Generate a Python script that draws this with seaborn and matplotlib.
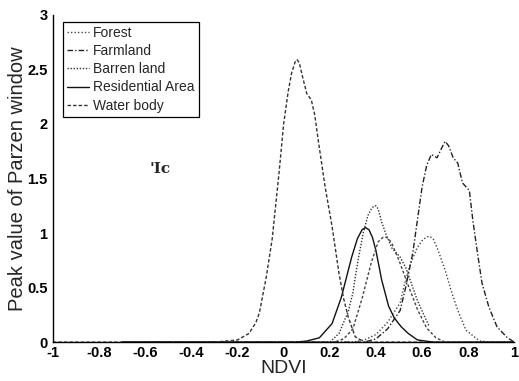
import numpy as np
import pandas as pd
import matplotlib
matplotlib.use("Agg")
import matplotlib.pyplot as plt
import seaborn as sns
from matplotlib.ticker import FormatStrFormatter

# ---- data ----
water_x = [-1.0, -0.7, -0.3, -0.2, -0.15, -0.12, -0.105, -0.075, -0.05, -0.02, 0.0, 0.02, 0.035,
           0.05, 0.058, 0.068, 0.08, 0.10, 0.12, 0.135, 0.15, 0.18, 0.21, 0.24, 0.26, 0.28, 0.31,
           0.35, 0.5, 1.0]
water_y = [0, 0, 0, 0.02, 0.08, 0.18, 0.27, 0.6, 0.94, 1.55, 2.0, 2.3, 2.47,
           2.57, 2.59, 2.56, 2.45, 2.28, 2.22, 2.08, 1.85, 1.42, 1.06, 0.63, 0.4, 0.23, 0.05,
           0.0, 0, 0]

resid_x = [-0.7, 0.05, 0.1, 0.155, 0.21, 0.25, 0.295, 0.32, 0.34, 0.355, 0.37, 0.385, 0.40,
           0.425, 0.455, 0.48, 0.51, 0.54, 0.58, 0.65, 1.0]
resid_y = [0, 0, 0.01, 0.04, 0.17, 0.41, 0.78, 0.95, 1.03, 1.05, 1.03, 0.96, 0.84,
           0.57, 0.33, 0.22, 0.14, 0.08, 0.02, 0, 0]

barren_x = [-0.7, 0.2, 0.24, 0.28, 0.30, 0.31, 0.325, 0.345, 0.365, 0.38, 0.39, 0.40, 0.41,
            0.425, 0.445, 0.47, 0.505, 0.53, 0.56, 0.58, 0.61, 0.63]
barren_y = [0, 0, 0.08, 0.28, 0.45, 0.59, 0.78, 1.0, 1.16, 1.22, 1.245, 1.25, 1.22,
            1.10, 0.98, 0.86, 0.78, 0.68, 0.5, 0.38, 0.24, 0.15]

extra_x = [-0.7, 0.22, 0.26, 0.30, 0.34, 0.38, 0.41, 0.43, 0.44, 0.455, 0.47, 0.50, 0.54, 0.58,
           0.62, 0.66, 0.70, 1.0]
extra_y = [0, 0, 0.03, 0.12, 0.40, 0.73, 0.92, 0.96, 0.965, 0.95, 0.90, 0.75, 0.52, 0.30,
           0.13, 0.04, 0, 0]

forest_x = [-0.7, 0.30, 0.35, 0.40, 0.45, 0.505, 0.525, 0.55, 0.58, 0.60, 0.62, 0.634, 0.65,
            0.67, 0.70, 0.725, 0.755, 0.79, 0.85, 0.9, 1.0]
forest_y = [0, 0, 0.02, 0.07, 0.18, 0.36, 0.54, 0.72, 0.87, 0.93, 0.965, 0.97, 0.94,
            0.84, 0.66, 0.48, 0.29, 0.11, 0.01, 0, 0]

farm_x = [-0.7, 0.30, 0.35, 0.40, 0.45, 0.505, 0.53, 0.56, 0.58, 0.60, 0.62, 0.64, 0.665, 0.685,
          0.70, 0.715, 0.735, 0.755, 0.775, 0.805, 0.82, 0.84, 0.86, 0.89, 0.925, 0.97, 1.0]
farm_y = [0, 0, 0.0, 0.03, 0.12, 0.29, 0.51, 0.82, 1.12, 1.42, 1.62, 1.72, 1.69, 1.78,
          1.84, 1.80, 1.69, 1.64, 1.46, 1.39, 1.12, 0.82, 0.54, 0.32, 0.14, 0.04, 0.0]

x_ticks = [-1, -0.8, -0.6, -0.4, -0.2, 0, 0.2, 0.4, 0.6, 0.8, 1]
y_ticks = [0, 0.5, 1, 1.5, 2, 2.5, 3]

# ---- plot ----
sns.set_style("white")
plt.rcParams['font.family'] = ['Liberation Sans', 'DejaVu Sans']

fig = plt.figure(figsize=(5.19, 3.81), dpi=100)
ax = fig.add_axes([0.102, 0.102, 0.889, 0.859])

series = [
    ("Forest", forest_x, forest_y, (0, (1, 1.5)), "#444444"),
    ("Farmland", farm_x, farm_y, (0, (4, 1.5, 1, 1.5)), "#222222"),
    ("Barren land", barren_x, barren_y, (0, (1, 1.2)), "#333333"),
    ("Residential Area", resid_x, resid_y, "-", "#111111"),
    ("Water body", water_x, water_y, (0, (2.5, 1.5)), "#333333"),
]
for name, xs, ys, ls, col in series:
    df = pd.DataFrame({"NDVI": xs, "val": ys})
    sns.lineplot(data=df, x="NDVI", y="val", ax=ax, color=col, linestyle=ls,
                 linewidth=1.0, label=name, sort=False)

df_extra = pd.DataFrame({"NDVI": extra_x, "val": extra_y})
sns.lineplot(data=df_extra, x="NDVI", y="val", ax=ax, color="#444444",
             linestyle=(0, (2, 1.5)), linewidth=1.0, legend=False, sort=False)

ax.set_xlim(-1, 1)
ax.set_ylim(0, 3)
ax.set_xticks(x_ticks)
ax.set_yticks(y_ticks)
ax.xaxis.set_major_formatter(FormatStrFormatter('%g'))
ax.yaxis.set_major_formatter(FormatStrFormatter('%g'))
ax.tick_params(direction='in', length=3, width=0.8, labelsize=10.5, pad=2, colors='black')
ax.tick_params(axis='y', pad=4)
ax.tick_params(axis='x', pad=3)
for lab in ax.get_xticklabels() + ax.get_yticklabels():
    lab.set_fontweight('bold')

for s in ['top', 'right']:
    ax.spines[s].set_visible(False)
for s in ['left', 'bottom']:
    ax.spines[s].set_color('black')
    ax.spines[s].set_linewidth(1.0)

ax.set_xlabel("NDVI", fontsize=14, labelpad=0)
ax.set_ylabel("Peak value of Parzen window", fontsize=14.5, labelpad=0)

leg = ax.legend(loc='upper left', bbox_to_anchor=(0.022, 0.979), borderaxespad=0,
                fontsize=10, frameon=True, fancybox=False, framealpha=1,
                edgecolor='black', handlelength=1.6, handletextpad=0.25,
                labelspacing=0.3, borderpad=0.3)
leg.get_frame().set_linewidth(0.9)

ax.text(-0.58, 1.55, "'Ic", fontsize=11, family='DejaVu Serif', fontweight='bold')

fig.savefig("out.png", dpi=100)
